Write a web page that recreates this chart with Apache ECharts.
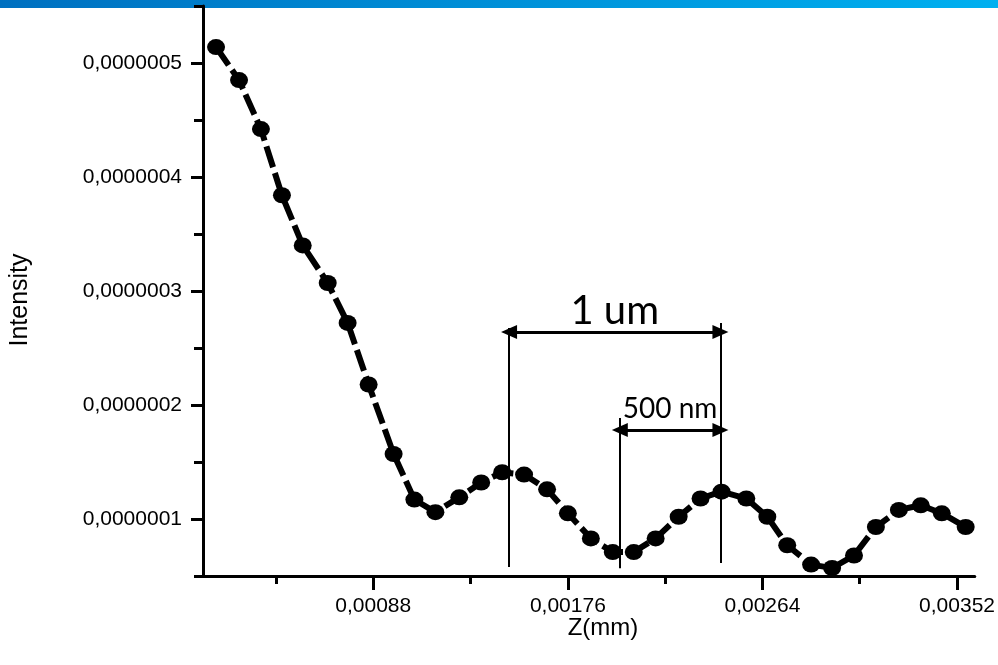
<!DOCTYPE html>
<html>
<head>
<meta charset="utf-8">
<title>Intensity vs Z</title>
<script src="https://cdn.jsdelivr.net/npm/echarts@6/dist/echarts.min.js"></script>
<style>
  html, body { margin: 0; padding: 0; background: #fff; }
  #chart { width: 998px; height: 665px; }
</style>
</head>
<body>
<div id="chart"></div>
<script>
// 数据 (Z in mm, intensity in a.u.)
const zValues = [
  0.000169, 0.000273, 0.000372, 0.000467, 0.000561, 0.000674, 0.000764, 0.000859,
  0.000972, 0.001066, 0.001161, 0.001269, 0.001368, 0.001463, 0.001562, 0.001666,
  0.001760, 0.001864, 0.001963, 0.002058, 0.002157, 0.002261, 0.002360, 0.002455,
  0.002567, 0.002662, 0.002752, 0.002860, 0.002955, 0.003054, 0.003153, 0.003257,
  0.003356, 0.003451, 0.003559
]
const intensity = [
  5.14e-7, 4.85e-7, 4.42e-7, 3.84e-7, 3.40e-7, 3.07e-7, 2.72e-7, 2.18e-7,
  1.57e-7, 1.17e-7, 1.06e-7, 1.19e-7, 1.32e-7, 1.41e-7, 1.39e-7, 1.26e-7,
  1.05e-7, 0.83e-7, 0.71e-7, 0.71e-7, 0.83e-7, 1.02e-7, 1.18e-7, 1.24e-7,
  1.18e-7, 1.02e-7, 0.77e-7, 0.60e-7, 0.57e-7, 0.68e-7, 0.93e-7, 1.08e-7,
  1.12e-7, 1.05e-7, 0.93e-7
]

// 刻度
const xMajorTicks = [0.00088, 0.00176, 0.00264, 0.00352]
const xMinorTicks = [0.00044, 0.00132, 0.0022, 0.00308]
const yMajorTicks = [1e-7, 2e-7, 3e-7, 4e-7, 5e-7]
const yMinorTicks = [0.5e-7, 1.5e-7, 2.5e-7, 3.5e-7, 4.5e-7, 5.5e-7]

// 标注: vertical guides [z, yFrom, yTo] and double arrows
const guideLines = [
  [0.001494, 0.578e-7, 2.676e-7],
  [0.002450, 0.613e-7, 2.720e-7],
  [0.001995, 0.569e-7, 1.886e-7]
]
const spanArrows = [
  { name: '1 um', from: 0.001494, to: 0.002450, y: 2.641e-7 },
  { name: '500 nm', from: 0.001995, to: 0.002450, y: 1.780e-7 }
]

const X_MIN = 0.00011
const X_MAX = 0.0036
const Y_MIN = 0.5e-7
const Y_MAX = 5.5e-7

const labelFont = "'Liberation Sans', Arial, sans-serif"
const noteFont = "Lato, 'Open Sans', sans-serif"

const chart = echarts.init(document.getElementById('chart'))

const markData = []
guideLines.forEach(g => {
  markData.push([
    { coord: [g[0], g[1]], symbol: 'none', label: { show: false } },
    { coord: [g[0], g[2]], symbol: 'none' }
  ])
})
spanArrows.forEach((a, i) => {
  markData.push([
    {
      name: a.name,
      coord: [a.from, a.y],
      symbol: 'triangle',
      lineStyle: { width: 3 },
      label: {
        show: true,
        position: 'middle',
        formatter: '{b}',
        color: '#000',
        fontFamily: noteFont,
        fontSize: i === 0 ? 40 : 28,
        distance: i === 0 ? 1 : 7
      }
    },
    { coord: [a.to, a.y], symbol: 'triangle' }
  ])
})

const option = {
  animation: false,
  backgroundColor: '#fff',
  grid: { left: 203, right: 22, top: 6, bottom: 89, containLabel: false },
  xAxis: [
    {
      type: 'value',
      min: X_MIN,
      max: X_MAX,
      position: 'bottom',
      splitLine: { show: false },
      axisLine: { onZero: false, lineStyle: { color: '#000', width: 3 } },
      axisTick: { customValues: xMajorTicks, length: 14, lineStyle: { color: '#000', width: 3 } },
      axisLabel: {
        customValues: xMajorTicks,
        margin: 20,
        color: '#000',
        fontFamily: labelFont,
        fontSize: 21,
        formatter: v => v.toFixed(5).replace('.', ',')
      }
    },
    {
      // minor ticks only
      type: 'value',
      min: X_MIN,
      max: X_MAX,
      position: 'bottom',
      splitLine: { show: false },
      axisLine: { show: false, onZero: false },
      axisTick: { customValues: xMinorTicks, length: 8, lineStyle: { color: '#000', width: 3 } },
      axisLabel: { show: false }
    }
  ],
  yAxis: [
    {
      type: 'value',
      min: Y_MIN,
      max: Y_MAX,
      position: 'left',
      splitLine: { show: false },
      axisLine: { onZero: false, lineStyle: { color: '#000', width: 3 } },
      axisTick: { customValues: yMajorTicks, length: 12, lineStyle: { color: '#000', width: 3 } },
      axisLabel: {
        customValues: yMajorTicks,
        margin: 21,
        color: '#000',
        fontFamily: labelFont,
        fontSize: 21,
        formatter: v => v.toFixed(7).replace('.', ',')
      }
    },
    {
      type: 'value',
      min: Y_MIN,
      max: Y_MAX,
      position: 'left',
      splitLine: { show: false },
      axisLine: { show: false, onZero: false },
      axisTick: { customValues: yMinorTicks, length: 9, lineStyle: { color: '#000', width: 3 } },
      axisLabel: { show: false }
    }
  ],
  graphic: [
    {
      type: 'rect',
      z: -10,
      shape: { x: 0, y: 0, width: 998, height: 8 },
      style: {
        fill: new echarts.graphic.LinearGradient(0, 0, 1, 0, [
          { offset: 0, color: '#0070c0' },
          { offset: 1, color: '#00b0f0' }
        ])
      }
    },
    {
      type: 'text',
      x: 20,
      y: 300,
      rotation: Math.PI / 2,
      style: {
        text: 'Intensity',
        fill: '#000',
        font: "25px 'Liberation Sans', Arial, sans-serif",
        align: 'center',
        verticalAlign: 'middle'
      }
    },
    {
      type: 'text',
      x: 603,
      y: 628,
      style: {
        text: 'Z(mm)',
        fill: '#000',
        font: "24px 'Liberation Sans', Arial, sans-serif",
        align: 'center',
        verticalAlign: 'middle'
      }
    }
  ],
  series: [
    {
      type: 'line',
      xAxisIndex: 0,
      yAxisIndex: 0,
      data: zValues.map((z, i) => [z, intensity[i]]),
      symbol: 'circle',
      symbolSize: [18, 16],
      itemStyle: { color: '#000' },
      lineStyle: { color: '#000', width: 6, type: [22, 6] },
      markLine: {
        silent: true,
        symbolSize: [14, 16],
        lineStyle: { color: '#000', width: 2, type: 'solid' },
        label: { show: false },
        data: markData
      }
    }
  ]
}

chart.setOption(option)
</script>
</body>
</html>
